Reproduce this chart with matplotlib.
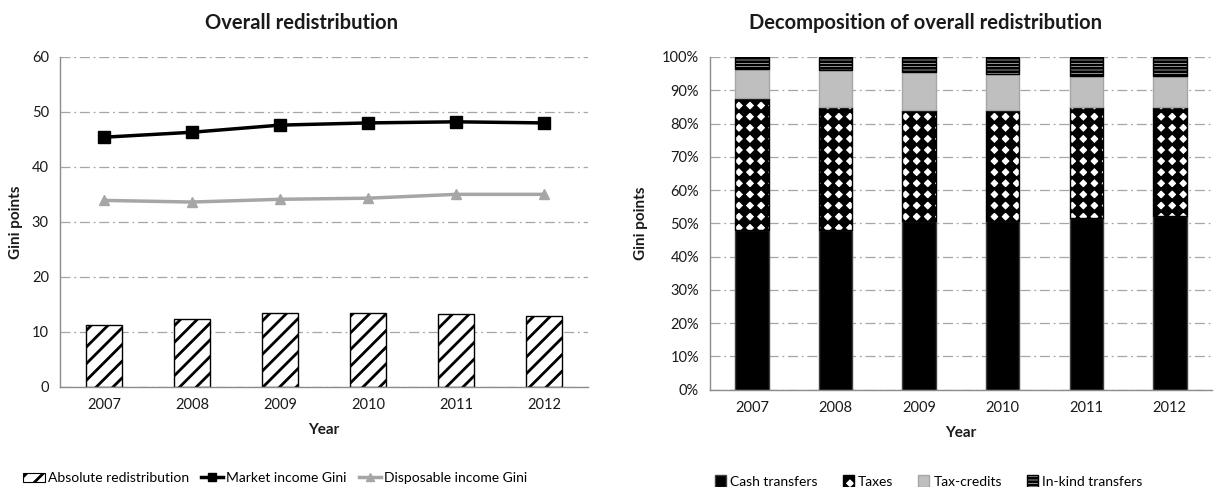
import warnings
import numpy as np
import matplotlib
matplotlib.use("Agg")
import matplotlib.pyplot as plt
from matplotlib import hatch as mhatch
from matplotlib.path import Path as MPath
from matplotlib.patches import Patch
from matplotlib.lines import Line2D
from matplotlib.ticker import PercentFormatter

warnings.filterwarnings("ignore")

# ── Data ──
years = ["2007", "2008", "2009", "2010", "2011", "2012"]
absolute_redist = [11.3, 12.3, 13.4, 13.4, 13.2, 12.9]
market_gini = [45.4, 46.3, 47.6, 48.0, 48.2, 48.0]
disposable_gini = [33.9, 33.6, 34.1, 34.3, 35.0, 35.0]

# decomposition shares (%)
cash_transfers = [48.0, 48.0, 50.6, 50.8, 51.6, 52.3]
taxes = [39.6, 37.0, 33.4, 33.2, 33.4, 32.7]
tax_credits = [8.9, 11.0, 11.4, 10.8, 9.4, 9.4]
inkind_transfers = [3.5, 4.0, 4.6, 5.2, 5.6, 5.6]


# custom filled-diamond hatch ("d")
class DiamondHatch(mhatch.HatchPatternBase):
    def __init__(self, hatch, density):
        self.num_rows = hatch.count("d") * 9
        self.num_vertices = (self.num_rows + 1) ** 2 * 5 if self.num_rows else 0

    def set_vertices_and_codes(self, vertices, codes):
        step = 1.0 / self.num_rows
        r = step * 0.45
        shape = np.array([[0, r], [r, 0], [0, -r], [-r, 0], [0, r]])
        sc = [MPath.MOVETO, MPath.LINETO, MPath.LINETO, MPath.LINETO, MPath.CLOSEPOLY]
        parts = []
        for i in range(self.num_rows + 1):
            for j in range(self.num_rows + 1):
                parts.append(shape + [j * step, i * step])
        np.concatenate(parts, out=vertices)
        codes[:] = np.tile(sc, len(parts))


mhatch._hatch_types.append(DiamondHatch)

plt.rcParams["font.family"] = ["Lato", "DejaVu Sans"]
plt.rcParams["hatch.linewidth"] = 2.0

GRID = "#a6a6a6"
TXT = "#1a1a1a"

fig = plt.figure(figsize=(12.14, 4.87), dpi=100)
x = np.arange(len(years))


def style_axes(ax):
    for s in ["top", "right"]:
        ax.spines[s].set_visible(False)
    for s in ["left", "bottom"]:
        ax.spines[s].set_color("#8c8c8c")
        ax.spines[s].set_linewidth(1.0)
    ax.yaxis.grid(True, color=GRID, linestyle=(0, (8, 3, 1.5, 3)), linewidth=0.9)
    ax.set_axisbelow(True)
    ax.tick_params(axis="both", length=0, labelsize=10.5, colors=TXT, pad=8)
    ax.set_xticks(x)
    ax.set_xticklabels(years)
    ax.set_xlim(-0.5, len(years) - 0.5)


# ── Left chart ──
ax1 = fig.add_axes([0.0494, 0.206, 0.435, 0.677])
style_axes(ax1)
ax1.bar(x, absolute_redist, width=0.4, color="white", edgecolor="black",
        hatch="//", linewidth=1.0, zorder=2)
ax1.plot(x, market_gini, color="black", lw=2.5, marker="s", ms=8, zorder=3)
ax1.plot(x, disposable_gini, color="#a6a6a6", lw=2.5, marker="^", ms=7, zorder=3)
ax1.set_ylim(0, 60)
ax1.set_yticks(range(0, 61, 10))
ax1.set_ylabel("Gini points", fontsize=11, fontweight="bold", color=TXT, labelpad=6)
ax1.set_xlabel("Year", fontsize=11, fontweight="bold", color=TXT, labelpad=8)
fig.text(0.248, 0.953, "Overall redistribution", ha="center", va="center",
         fontsize=14.5, fontweight="bold", color=TXT)

h1 = [Patch(facecolor="white", edgecolor="black", hatch="//", linewidth=0.8),
      Line2D([], [], color="black", lw=2.5, marker="s", ms=6),
      Line2D([], [], color="#a6a6a6", lw=2.5, marker="^", ms=6)]
fig.legend(h1, ["Absolute redistribution", "Market income Gini", "Disposable income Gini"],
           loc="center", bbox_to_anchor=(0.2265, 0.018), ncol=3, frameon=False,
           fontsize=10, handlelength=1.6, handletextpad=0.2, columnspacing=0.9)

# ── Right chart ──
ax2 = fig.add_axes([0.585, 0.200, 0.413, 0.683])
style_axes(ax2)
bottom = np.zeros(len(years))
series = [
    (cash_transfers, dict(color="black", edgecolor="#404040")),
    (taxes, dict(color="white", edgecolor="black", hatch="d")),
    (tax_credits, dict(color="#bfbfbf", edgecolor="#a6a6a6")),
    (inkind_transfers, dict(color="white", edgecolor="black", hatch="-----")),
]
for vals, kw in series:
    ax2.bar(x, vals, bottom=bottom, width=0.4, linewidth=1.0, zorder=2, **kw)
    bottom += np.array(vals)
ax2.set_ylim(0, 100)
ax2.set_yticks(range(0, 101, 10))
ax2.yaxis.set_major_formatter(PercentFormatter(decimals=0))
ax2.set_ylabel("Gini points", fontsize=11, fontweight="bold", color=TXT, labelpad=10)
ax2.set_xlabel("Year", fontsize=11, fontweight="bold", color=TXT, labelpad=8)
fig.text(0.762, 0.953, "Decomposition of overall redistribution", ha="center", va="center",
         fontsize=14.5, fontweight="bold", color=TXT)

h2 = [Patch(facecolor="black", edgecolor="#404040"),
      Patch(facecolor="white", edgecolor="black", hatch="d"),
      Patch(facecolor="#bfbfbf", edgecolor="#a6a6a6"),
      Patch(facecolor="white", edgecolor="black", hatch="-----")]
fig.legend(h2, ["Cash transfers", "Taxes", "Tax-credits", "In-kind transfers"],
           loc="center", bbox_to_anchor=(0.765, 0.012), ncol=4, frameon=False,
           fontsize=10, handlelength=0.8, handleheight=1.0, handletextpad=0.3,
           columnspacing=1.8)

fig.savefig("out.png", dpi=100, facecolor="white")
